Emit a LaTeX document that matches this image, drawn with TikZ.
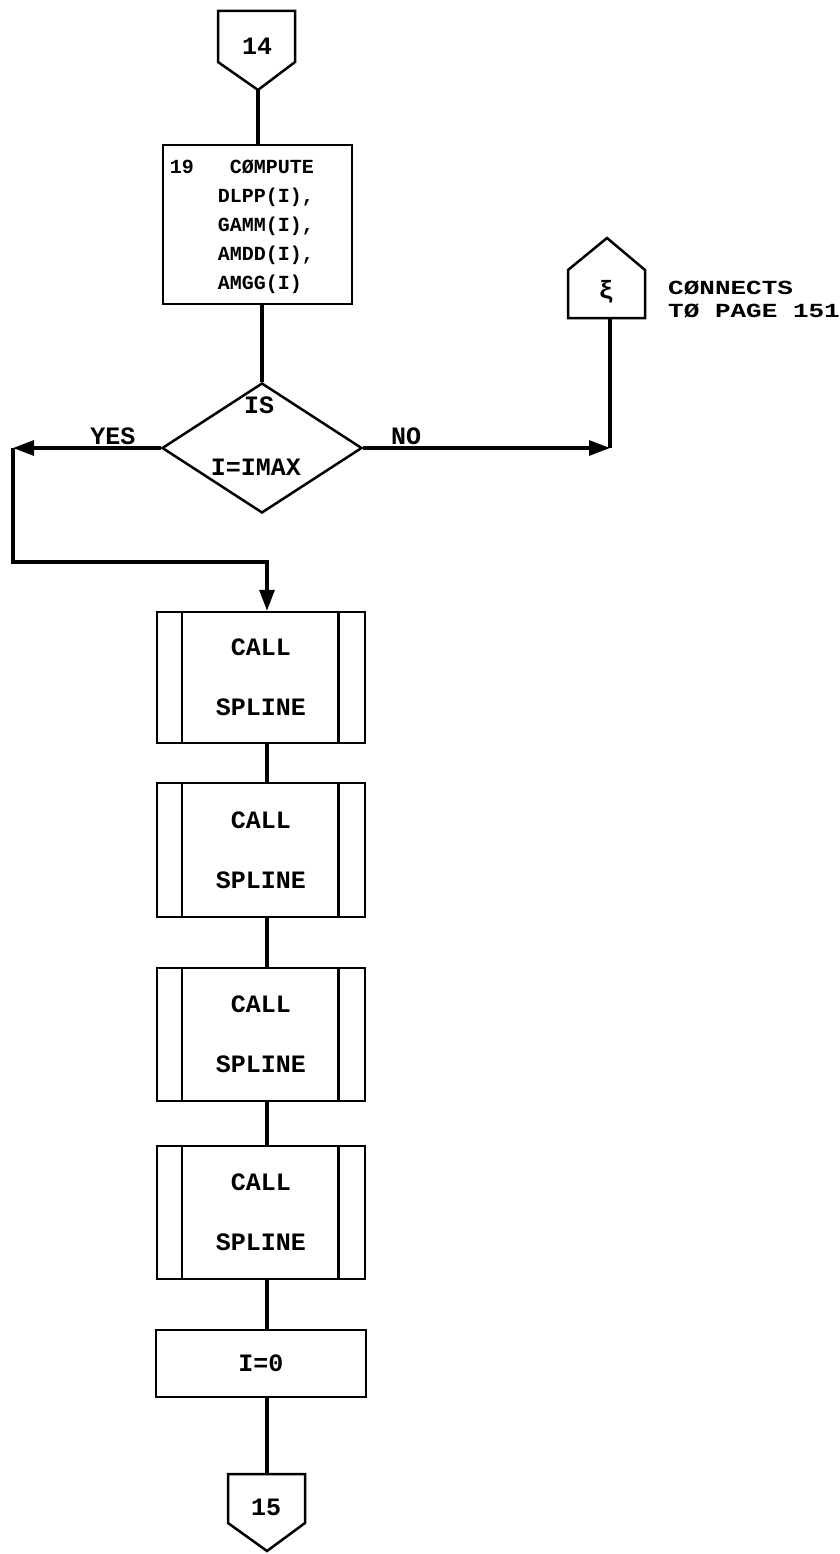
\documentclass[tikz,border=0pt]{standalone}
\usepackage{fontspec}
\setmonofont{Liberation Mono}
\newfontfamily\widemono[FakeStretch=1.3]{Liberation Mono}
\usetikzlibrary{arrows.meta,shapes.geometric}
\begin{document}
\begin{tikzpicture}[x=1pt,y=-1pt,
 shp/.style={draw, line width=2.5pt},
 flow/.style={line width=3.2pt},
 arr/.style={flow, -{Triangle[length=21pt,width=15pt]}},
 lbl/.style={font=\ttfamily\bfseries\fontsize{25pt}{28pt}\selectfont, inner sep=0pt},
 cmptxt/.style={font=\ttfamily\bfseries\fontsize{20pt}{29pt}\selectfont, align=right, inner sep=0pt},
 callbox/.style={shp, minimum width=208pt, minimum height=133pt, inner sep=0pt, align=center,
   font=\ttfamily\bfseries\fontsize{25pt}{60pt}\selectfont},
 notetxt/.style={font=\widemono\bfseries\fontsize{20pt}{23pt}\selectfont, align=left, inner sep=0pt}
]
\useasboundingbox (0,0) rectangle (839,1554);
\fill[white] (0,0) rectangle (839,1554);

% off-page connector 14
\draw[shp] (218,11) -- (295,11) -- (295,62) -- (258,90) -- (218,62) -- cycle;
\node[lbl] (c14) at (257,46) {14};
\coordinate (c14tip) at (258,90);

% compute box
\node[shp, minimum width=189pt, minimum height=159pt, inner sep=0pt] (cmp) at (257.5,224.5) {};
\node[cmptxt, anchor=east] (cmpt) at (314,227) {19\ \ \ CØMPUTE\\DLPP(I),\\GAMM(I),\\AMDD(I),\\AMGG(I)\phantom{,}};
\draw[flow] (c14tip) -- (c14tip |- cmp.north);

% decision
\node[shp, diamond, minimum width=200pt, minimum height=130pt, inner sep=0pt] (dec) at (262,448) {};
\node[lbl] (is) at (259,405) {IS};
\node[lbl] (imax) at (256,467) {I=IMAX};
\draw[flow] (dec.north |- cmp.south) -- (dec.north);

% YES branch
\coordinate (yl) at (13,448);
\coordinate (yb) at (13,562);
\coordinate (ya) at (267,562);
\draw[arr] (dec.west) -- (yl);
\node[lbl] (yes) at (113,436) {YES};

% NO branch and connector
\draw[shp] (568,318) -- (568,270) -- (607,238) -- (645,270) -- (645,318) -- cycle;
\node[lbl] (eps) at (606,292) {ξ};
\coordinate (ebot) at (610,318);
\coordinate (nj) at (610,448);
\draw[arr] (dec.east) -- (nj);
\draw[flow] (nj) -- (ebot);
\node[lbl] (no) at (406,436) {NO};
\node[notetxt, anchor=west] (note) at (668,299) {CØNNECTS\\TØ PAGE 151};

% call boxes
\node[callbox, minimum height=131pt] (b1) at (261,677.5) {CALL\\SPLINE};
\node[callbox, minimum height=134pt] (b2) at (261,850) {CALL\\SPLINE};
\node[callbox] (b3) at (261,1034.5) {CALL\\SPLINE};
\node[callbox] (b4) at (261,1212.5) {CALL\\SPLINE};
\foreach \b in {b1,b2,b3,b4}{
  \draw[line width=2.5pt] ([xshift=26pt]\b.north west) -- ([xshift=26pt]\b.south west);
  \draw[line width=2.5pt] ([xshift=-28pt]\b.north east) -- ([xshift=-28pt]\b.south east);
}
\draw[arr] (yl) -- (yb) -- (ya) -- (ya |- b1.north);

\coordinate (tr) at (267,0);
\draw[flow] (b1.south -| tr) -- (b2.north -| tr);
\draw[flow] (b2.south -| tr) -- (b3.north -| tr);
\draw[flow] (b3.south -| tr) -- (b4.north -| tr);

% I=0
\node[shp, lbl, draw, minimum width=210pt, minimum height=67pt] (i0) at (261,1363.5) {I=0};
\draw[flow] (b4.south -| tr) -- (i0.north -| tr);

% off-page connector 15
\draw[shp] (228,1474) -- (305,1474) -- (305,1523) -- (267,1551) -- (228,1523) -- cycle;
\node[lbl] (c15) at (266,1507) {15};
\coordinate (c15top) at (267,1474);
\draw[flow] (i0.south -| tr) -- (c15top);
\end{tikzpicture}
\end{document}
